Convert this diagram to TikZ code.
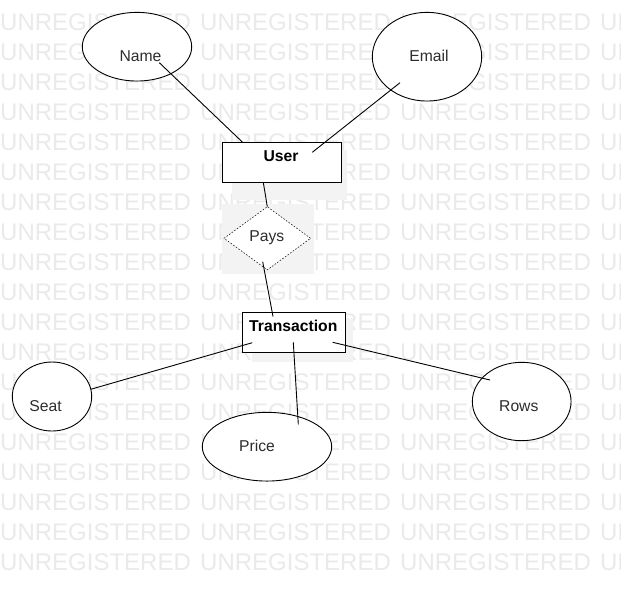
\documentclass[tikz,border=0pt]{standalone}
\usepackage{fontspec}
\setmainfont{Liberation Sans}
\usetikzlibrary{shapes.geometric}
\definecolor{wmgray}{RGB}{234,234,234}
\definecolor{shadegray}{RGB}{243,243,243}
\definecolor{txtgray}{RGB}{45,45,45}
\tikzset{
  wm/.style={inner sep=0pt, anchor=base west, text=wmgray, font=\fontsize{24}{24}\selectfont},
  shade/.style={fill=shadegray, draw=none},
  attr/.style={ellipse, draw=black, fill=white, line width=0.9pt, inner sep=0pt},
  entity/.style={rectangle, draw=black, fill=white, line width=0.9pt, inner sep=0pt},
  rel/.style={diamond, draw=black, fill=white, line width=0.5pt, dash pattern=on 1.6pt off 1.6pt, inner sep=0pt, aspect=1.37},
  lbl/.style={inner sep=0pt, anchor=base, text=txtgray, font=\fontsize{15.7}{18}\selectfont},
  blbl/.style={inner sep=0pt, anchor=base, text=black, font=\fontsize{15.7}{18}\selectfont\bfseries},
  link/.style={draw=black, line width=0.9pt},
}
\begin{document}
\begin{tikzpicture}[x=1pt, y=-1pt]
\useasboundingbox (0,0) rectangle (621,590);
\fill[white] (0,0) rectangle (621,590);
% watermark
\foreach \r in {0,...,18}{
  \foreach \c in {0,...,3}{
    \node[wm] (wm-\r-\c) at (\c*200, 30.5+\r*30) {UNREGISTERED};
  }
}
% light grey backgrounds
\fill[shade] (232,150) rectangle (347,200);
\fill[shade] (222,203.5) rectangle (313.5,273.5);
\fill[shade] (252,318) rectangle (353,362);

% entities
\node[entity, minimum width=119pt, minimum height=39.5pt] (user) at (281.7,162.4) {};
\node[entity, minimum width=102.7pt, minimum height=40pt] (trans) at (293.6,332.3) {};
% relationship
\node[rel, minimum width=86.7pt, minimum height=63.3pt] (pays) at (267.3,238.3) {};
% attributes
\node[attr, minimum width=109.4pt, minimum height=68.7pt] (name) at (137,46.7) {};
\node[attr, minimum width=109.4pt, minimum height=88.7pt] (email) at (427,56.7) {};
\node[attr, minimum width=79.4pt, minimum height=69pt] (seat) at (52,396.5) {};
\node[attr, minimum width=129.4pt, minimum height=68.7pt] (price) at (267,446.7) {};
\node[attr, minimum width=98.7pt, minimum height=78.4pt] (rows) at (521.7,401.5) {};

% labels
\node[lbl] (name-t) at (140.5,61.5) {Name};
\node[lbl] (email-t) at (429,61.5) {Email};
\node[blbl] (user-t) at (281,161) {User};
\node[lbl] (pays-t) at (266.8,241.5) {Pays};
\node[blbl] (trans-t) at (293.3,331) {Transaction};
\node[lbl] (seat-t) at (45.5,411.5) {Seat};
\node[lbl] (price-t) at (257,451.5) {Price};
\node[lbl] (rows-t) at (518.8,411.5) {Rows};

% connector end points
\coordinate (n1) at (159.3,62.7);
\coordinate (n2) at (242.3,142);
\coordinate (e1) at (400,82.7);
\coordinate (e2) at (312.3,152.3);
\coordinate (u1) at (263.3,182.3);
\coordinate (p1) at (267.3,206.7);
\coordinate (p2) at (262.7,261.7);
\coordinate (t1) at (273,316.5);
\coordinate (t2) at (252.3,342.7);
\coordinate (s1) at (90.7,389.3);
\coordinate (t3) at (293.3,342.3);
\coordinate (pr1) at (298.3,424.3);
\coordinate (t4) at (332.7,342.3);
\coordinate (r1) at (490,380);

% connectors
\draw[link] (n1) -- (n2);
\draw[link] (e1) -- (e2);
\draw[link] (u1) -- (p1);
\draw[link] (p2) -- (t1);
\draw[link] (t2) -- (s1);
\draw[link] (t3) -- (pr1);
\draw[link] (t4) -- (r1);
\end{tikzpicture}
\end{document}
